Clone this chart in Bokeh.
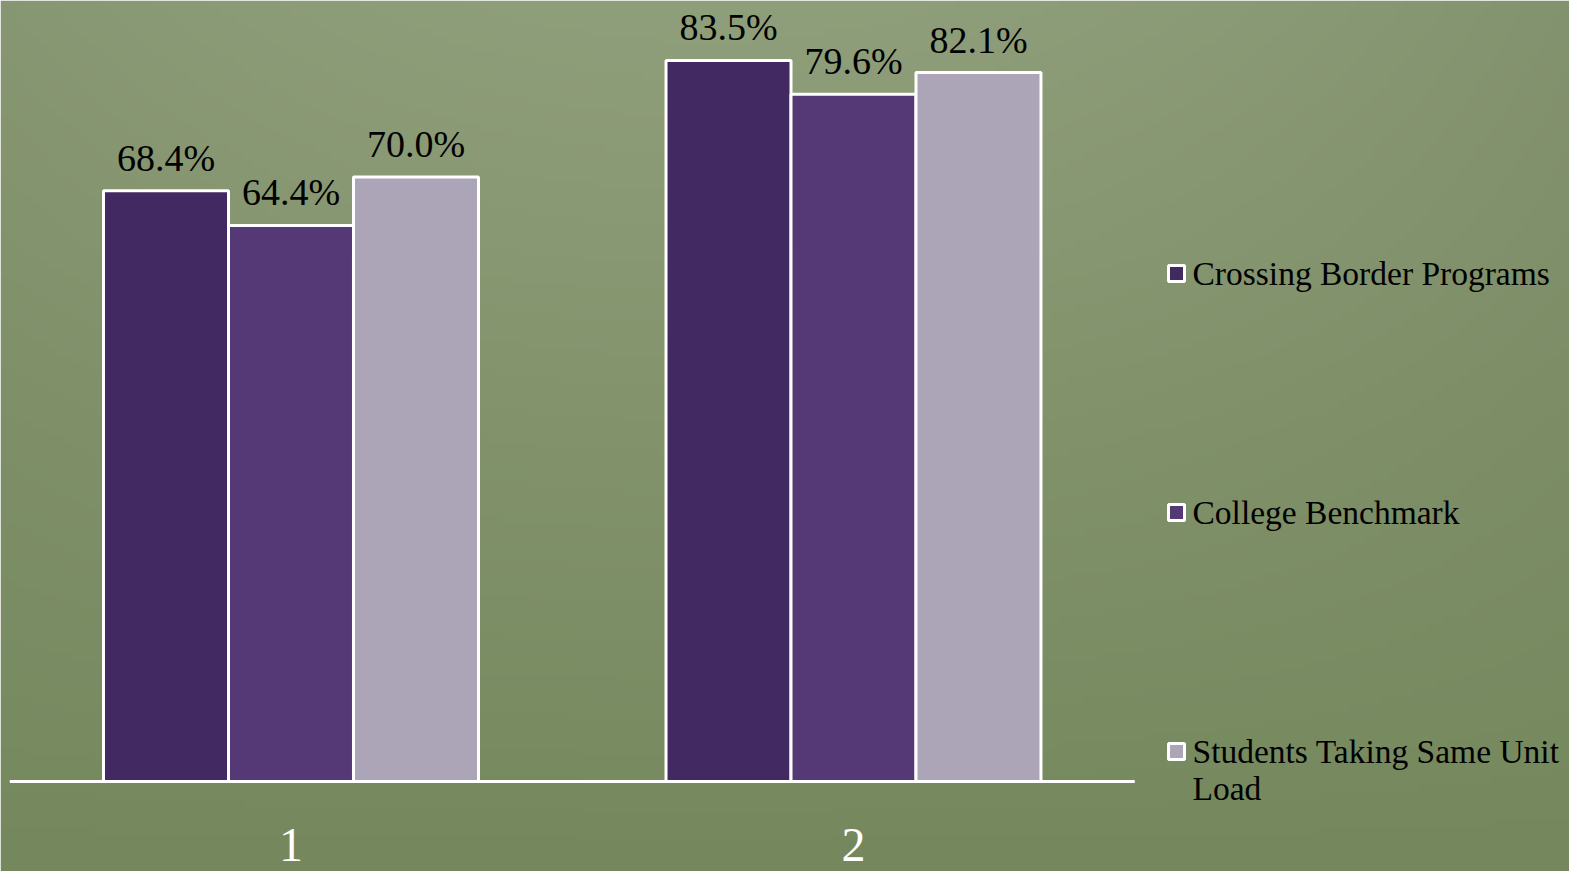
import numpy as np
from bokeh.plotting import figure
from bokeh.models import ColumnDataSource, LabelSet, Range1d
from bokeh.transform import dodge
from bokeh.core.properties import value
from bokeh.embed import file_html
from bokeh.resources import INLINE

# ---- data ----
groups = [1, 2]
group_labels = ["1", "2"]
series_names = ["Crossing Border Programs", "College Benchmark", "Students Taking Same Unit Load"]
crossing_border = [68.4, 83.5]
college_benchmark = [64.4, 79.6]
same_unit_load = [70.0, 82.1]
series_values = [crossing_border, college_benchmark, same_unit_load]
series_colors = ["#432961", "#553977", "#aca5b8"]
offsets = [-0.2222, 0.0, 0.2222]

FONT = "Liberation Serif"
FW, FH = 1569, 871

# scale: 562.5 px per group unit, 8.635 px per percent; baseline at 781 px from top
PX_X = 562.5
PX_Y = 8.635
BASE = 781
x_start = 1 - 290.5 / PX_X
x_end = x_start + FW / PX_X
y_end = BASE / PX_Y
y_start = -(FH - BASE) / PX_Y

p = figure(frame_width=FW, frame_height=FH, output_backend="svg",
           toolbar_location=None, x_range=Range1d(x_start, x_end),
           y_range=Range1d(y_start, y_end), x_axis_location=None,
           y_axis_location=None, min_border=0)
p.border_fill_color = "#74865c"
p.outline_line_color = None
p.grid.visible = False

# background gradient (decorative)
H, W = 120, 200
ty = np.linspace(0, 1, H)[:, None]  # 0 bottom .. 1 top
tx = np.linspace(0, 1, W)[None, :]
top = np.array([144, 159, 123])
bot = np.array([117, 136, 93])
img = np.zeros((H, W, 4), dtype=np.uint8)
for k in range(3):
    c = bot[k] + (top[k] - bot[k]) * ty - 10 * ((tx - 0.45) * 2) ** 2 * ty
    img[:, :, k] = np.clip(c, 0, 255)
img[:, :, 3] = 255
p.image_rgba(image=[img.view(dtype=np.uint32).reshape(H, W)], x=x_start, y=y_start,
             dw=x_end - x_start, dh=y_end - y_start)

for name, vals, col, off in zip(series_names, series_values, series_colors, offsets):
    src = ColumnDataSource(dict(x=groups, y=vals, lab=[f"{v:.1f}%" for v in vals]))
    p.vbar(x=dodge("x", off), top="y", width=0.2222, bottom=0, source=src,
           fill_color=col, line_color="white", line_width=3)
    p.add_layout(LabelSet(x=dodge("x", off), y="y", text="lab", source=src,
                          text_align="center", text_baseline="alphabetic", y_offset=20,
                          text_font=value(FONT), text_font_size="38px", text_color="black"))

# baseline (category axis line)
p.segment(x0=[groups[0] - 0.5], y0=[0], x1=[groups[-1] + 0.5], y1=[0],
          line_color="white", line_width=3)

# category labels
cat_src = ColumnDataSource(dict(x=groups, y=[0] * len(groups), t=group_labels))
p.add_layout(LabelSet(x="x", y="y", text="t", source=cat_src, text_align="center",
                      text_baseline="alphabetic", y_offset=-79,
                      text_font=value(FONT), text_font_size="48px", text_color="white"))

# legend (drawn at the right of the plot)
leg_x_glyph = x_start + 1176 / PX_X
leg_x_text = x_start + 1192 / PX_X
leg_y = [(BASE - s) / PX_Y for s in (273, 512, 751)]
p.rect(x=[leg_x_glyph] * 3, y=leg_y, width=16, height=16, width_units="screen",
       height_units="screen", fill_color=series_colors, line_color="white", line_width=3)

def wrap(s, n=26):
    words, lines, cur = s.split(), [], ""
    for w in words:
        if cur and len(cur) + 1 + len(w) > n:
            lines.append(cur)
            cur = w
        else:
            cur = (cur + " " + w).strip()
    lines.append(cur)
    return lines

tx_, ty_, tt_, toff = [], [], [], []
for name, yy in zip(series_names, leg_y):
    for i, line in enumerate(wrap(name)):
        tx_.append(leg_x_text)
        ty_.append(yy)
        tt_.append(line)
        toff.append(37 * i)
p.text(x=tx_, y=ty_, text=tt_, y_offset=toff, text_baseline="middle", text_align="left",
       text_font=value(FONT), text_font_size="33.5px", text_color="black")

open("out.html", "w").write(file_html(p, INLINE))
